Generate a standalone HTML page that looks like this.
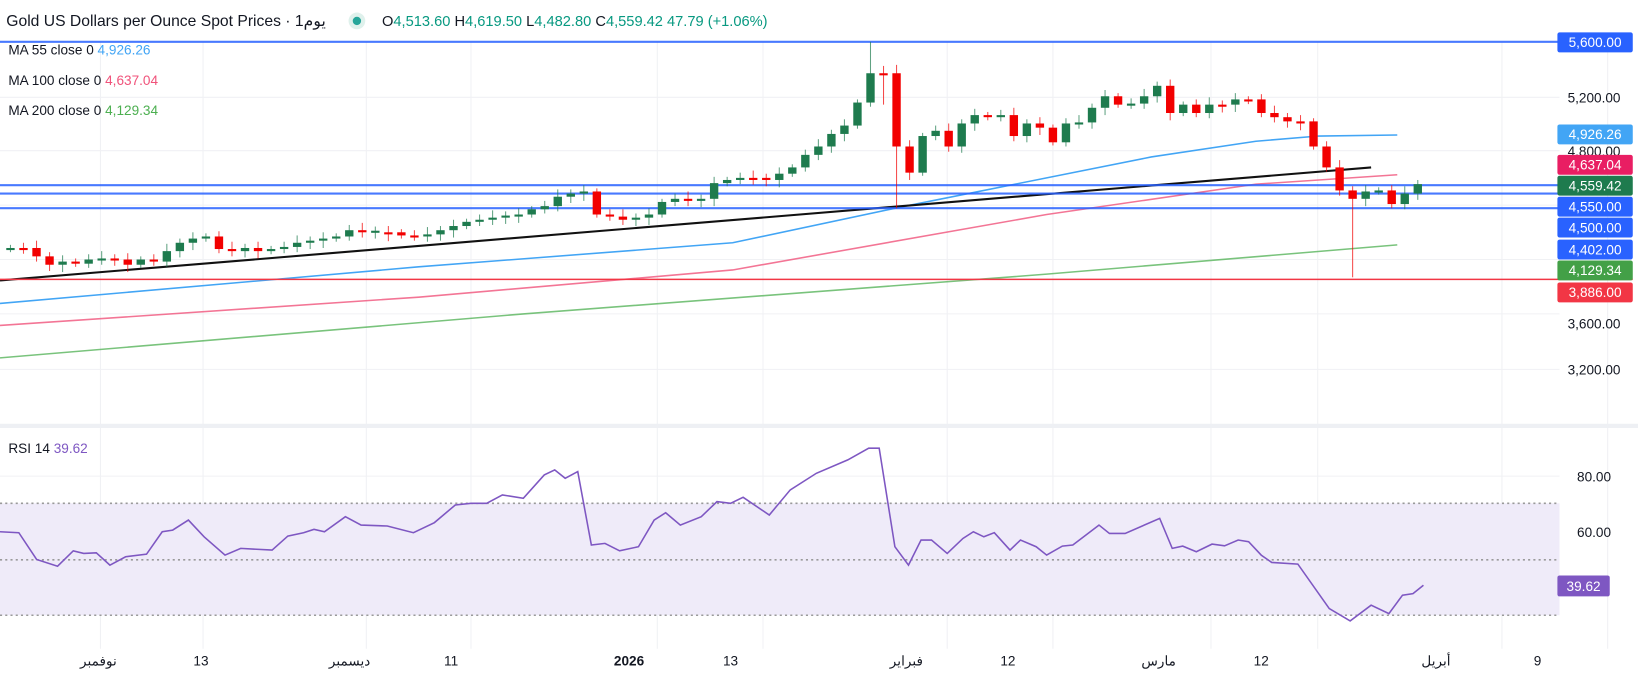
<!DOCTYPE html>
<html><head><meta charset="utf-8"><style>
body{margin:0;background:#fff;width:1638px;height:677px;overflow:hidden;font-family:"Liberation Sans","Noto Sans CJK SC",sans-serif}
svg text{font-family:"Liberation Sans","Noto Sans CJK SC",sans-serif}
</style></head><body>
<svg id="s" width="1638" height="677" viewBox="0 0 1565 647" preserveAspectRatio="none" xmlns="http://www.w3.org/2000/svg">
<rect width="1565" height="647" fill="#fff"/>
<g id="grid" stroke="#f0f1f4" stroke-width="1">
<line x1="0" y1="93" x2="1490" y2="93"/><line x1="0" y1="144" x2="1490" y2="144"/><line x1="0" y1="196" x2="1490" y2="196"/><line x1="0" y1="248" x2="1490" y2="248"/><line x1="0" y1="300" x2="1490" y2="300"/><line x1="0" y1="353" x2="1490" y2="353"/>
<line x1="0" y1="455" x2="1490" y2="455"/><line x1="0" y1="508" x2="1490" y2="508"/><line x1="0" y1="561" x2="1490" y2="561"/>
<line x1="96" y1="40" x2="96" y2="620"/><line x1="194" y1="40" x2="194" y2="620"/><line x1="350" y1="40" x2="350" y2="620"/><line x1="450" y1="40" x2="450" y2="620"/><line x1="628" y1="40" x2="628" y2="620"/><line x1="729" y1="40" x2="729" y2="620"/><line x1="905" y1="40" x2="905" y2="620"/><line x1="1006" y1="40" x2="1006" y2="620"/><line x1="1157" y1="40" x2="1157" y2="620"/><line x1="1259" y1="40" x2="1259" y2="620"/><line x1="1435" y1="40" x2="1435" y2="620"/><line x1="1536" y1="40" x2="1536" y2="620"/>
</g>
<rect x="0" y="405" width="1565" height="4" fill="#eef0f4"/>
<rect x="0" y="481" width="1490" height="107" fill="#efebf9"/>
<g stroke="#9a9a9a" stroke-width="1.5" stroke-dasharray="2,3">
<line x1="0" y1="481" x2="1490" y2="481"/><line x1="0" y1="535" x2="1490" y2="535"/><line x1="0" y1="588" x2="1490" y2="588"/>
</g>
<g id="ma" fill="none" stroke-width="1.5">
<polyline stroke="#4caf50" opacity=".75" points="0,342 500,300 1000,262 1335,234"/>
<polyline stroke="#f0527a" opacity=".8" points="0,311 400,284 700,258 1000,205 1200,176 1335,167"/>
<polyline stroke="#42a5f5" points="0,290 400,255 700,232 860,198 1000,170 1100,150 1200,135 1260,130 1335,129"/>
</g>
<line x1="0" y1="268" x2="1310" y2="160" stroke="#111" stroke-width="2"/>
<g stroke="#2962ff" stroke-width="2" opacity=".85">
<line x1="0" y1="40" x2="1490" y2="40"/><line x1="0" y1="177" x2="1490" y2="177"/><line x1="0" y1="185" x2="1490" y2="185"/><line x1="0" y1="199" x2="1490" y2="199"/>
</g>
<line x1="0" y1="267" x2="1560" y2="267" stroke="#f23645" stroke-width="1.5"/>
<g id="candles"></g>
<polyline id="rsi" fill="none" stroke="#7e57c2" stroke-width="1.5"/>
<rect x="0" y="0" width="1565" height="38" fill="#fff"/>
<text x="6" y="25" font-size="15" fill="#131722">Gold US Dollars per Ounce Spot Prices · 1يوم</text>
<circle cx="341" cy="20" r="8" fill="#dff1ec"/><circle cx="341" cy="20" r="4" fill="#26a69a"/>
<text x="365" y="25" font-size="14" fill="#089981"><tspan fill="#131722">O</tspan>4,513.60 <tspan fill="#131722">H</tspan>4,619.50 <tspan fill="#131722">L</tspan>4,482.80 <tspan fill="#131722">C</tspan>4,559.42 47.79 (+1.06%)</text>
<text x="8" y="52" font-size="13" fill="#131722">MA 55 close 0 <tspan fill="#42a5f5">4,926.26</tspan></text>
<text x="8" y="81" font-size="13" fill="#131722">MA 100 close 0 <tspan fill="#f0527a">4,637.04</tspan></text>
<text x="8" y="110" font-size="13" fill="#131722">MA 200 close 0 <tspan fill="#4caf50">4,129.34</tspan></text>
<text x="8" y="433" font-size="13" fill="#131722">RSI 14 <tspan fill="#7e57c2">39.62</tspan></text>
<g font-size="13" fill="#131722" text-anchor="middle">
<text x="1523" y="98">5,200.00</text><text x="1523" y="149">4,800.00</text><text x="1523" y="314">3,600.00</text><text x="1523" y="358">3,200.00</text>
<text x="1523" y="460">80.00</text><text x="1523" y="513">60.00</text>
</g>
<g font-size="13" fill="#fff" text-anchor="middle">
<rect x="1488" y="31" width="72" height="19" rx="2" fill="#2962ff"/><text x="1524" y="45">5,600.00</text>
<rect x="1488" y="119" width="72" height="19" rx="2" fill="#42a5f5"/><text x="1524" y="133">4,926.26</text>
<rect x="1488" y="148" width="72" height="19" rx="2" fill="#e91e63"/><text x="1524" y="162">4,637.04</text>
<rect x="1488" y="168" width="72" height="19" rx="2" fill="#1e7b4e"/><text x="1524" y="182">4,559.42</text>
<rect x="1488" y="188" width="72" height="19" rx="2" fill="#2962ff"/><text x="1524" y="202">4,550.00</text>
<rect x="1488" y="208" width="72" height="19" rx="2" fill="#2962ff"/><text x="1524" y="222">4,500.00</text>
<rect x="1488" y="229" width="72" height="19" rx="2" fill="#2962ff"/><text x="1524" y="243">4,402.00</text>
<rect x="1488" y="249" width="72" height="19" rx="2" fill="#43a047"/><text x="1524" y="263">4,129.34</text>
<rect x="1488" y="270" width="72" height="19" rx="2" fill="#f23645"/><text x="1524" y="284">3,886.00</text>
<rect x="1488" y="550" width="50" height="20" rx="2" fill="#7e57c2"/><text x="1513" y="565">39.62</text>
</g>
<rect x="0" y="648" width="1565" height="4" fill="#eef0f4"/>
<g font-size="13" fill="#131722" text-anchor="middle">
<text x="94" y="636">نوفمبر</text><text x="192" y="636">13</text><text x="334" y="636">ديسمبر</text><text x="431" y="636">11</text>
<text x="601" y="636" font-weight="bold">2026</text><text x="698" y="636">13</text><text x="866" y="636">فبراير</text><text x="963" y="636">12</text>
<text x="1107" y="636">مارس</text><text x="1205" y="636">12</text><text x="1372" y="636">أبريل</text><text x="1469" y="636">9</text>
</g>
</svg>
<script>
var c=[237,237,245,253,250,252,248,247,248,253,248,250,240,232,228,226,238,240,237,240,238,236,232,230,228,226,220,222,222,222,225,226,224,220,216,212,210,208,206,205,200,197,188,185,183,205,207,210,208,205,193,190,192,190,175,172,170,170,172,166,160,148,140,128,120,98,70,70,140,165,130,125,140,118,110,112,110,130,118,122,136,118,117,103,92,100,99,92,82,108,100,108,100,100,95,95,108,112,116,116,140,160,182,190,183,182,195,185,176];
var g=document.getElementById('candles'),h='';
for(var i=0;i<c.length;i++){var x=10+i*12.45,o=i?c[i-1]:238,cl=c[i];
if(Math.abs(o-cl)<1)cl=o+(i%2?1.5:-1.5);
var up=cl<o,col=up?'#1e7b4e':'#f20000',t=Math.min(o,cl),b=Math.max(o,cl);
var hi=t-3-(i*7%5),lo=b+3+(i*11%5);
if(i==66)hi=40;if(i==68){lo=199;hi=62;}if(i==103)lo=265;if(i==67)lo=100;
h+='<line x1="'+x+'" y1="'+hi+'" x2="'+x+'" y2="'+lo+'" stroke="'+col+'" opacity=".7"/>';
h+='<rect x="'+(x-4)+'" y="'+t+'" width="8" height="'+Math.max(b-t,2)+'" fill="'+col+'"/>';}
g.innerHTML=h;
var r=[[0,395],[18,398],[35,478],[55,498],[70,452],[80,460],[92,458],[105,495],[120,470],[140,462],[155,395],[165,390],[180,360],[195,410],[215,465],[230,445],[260,450],[275,408],[290,398],[300,388],[310,395],[330,350],[345,375],[370,378],[395,398],[415,368],[435,315],[450,310],[465,310],[480,285],[500,295],[520,225],[530,210],[540,235],[552,215],[565,435],[578,430],[592,452],[610,440],[625,360],[636,338],[650,375],[670,350],[685,305],[698,310],[710,292],[735,345],[755,270],[780,220],[810,180],[830,145],[840,145],[855,440],[868,495],[880,420],[890,420],[905,460],[920,415],[930,395],[940,410],[950,398],[965,450],[975,420],[990,440],[1000,465],[1015,438],[1025,435],[1050,375],[1060,400],[1075,400],[1108,355],[1120,445],[1130,438],[1143,455],[1158,432],[1170,437],[1183,420],[1193,425],[1205,465],[1215,487],[1240,492],[1270,625],[1290,662],[1310,615],[1327,640],[1340,585],[1350,580],[1360,555]];
document.getElementById('rsi').setAttribute('points',r.map(function(p){return (p[0]).toFixed(1)+','+((p[1]/2.99+400)*0.955).toFixed(1)}).join(' '));
</script>
</body></html>
